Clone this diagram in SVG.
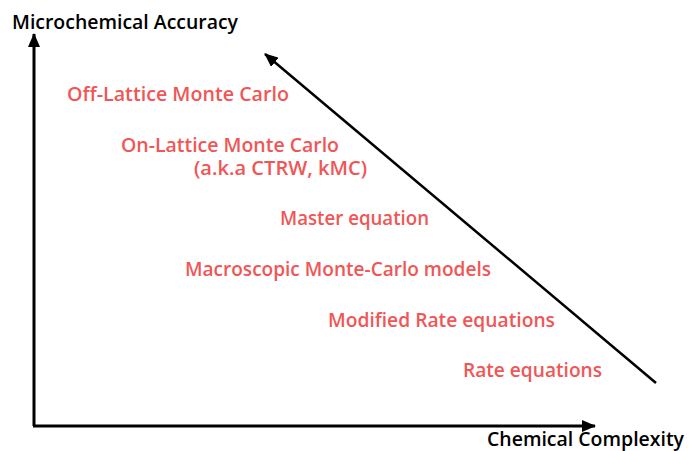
<svg xmlns="http://www.w3.org/2000/svg" width="689" height="451" viewBox="0 0 689 451">
<style>
text{font-family:"Open Sans","DejaVu Sans",sans-serif;font-weight:600;font-size:20px}
.ax{fill:#000}
.m{fill:#f05656}
.l{stroke:#000;fill:none}
</style>
<defs>
<marker id="ah" markerUnits="userSpaceOnUse" viewBox="0 0 14 12" refX="13" refY="6" markerWidth="14" markerHeight="12" orient="auto">
<path d="M0,0 L14,6 L0,12 z" fill="#000"/>
</marker>
</defs>
<rect width="689" height="451" fill="#fff"/>
<g id="connectors">
<path class="l" d="M34,426 L34,34" stroke-width="3" marker-end="url(#ah)"/>
<path class="l" d="M33,426 L595,426" stroke-width="3" marker-end="url(#ah)"/>
<path class="l" d="M656,383 L265,54" stroke-width="2.5" marker-end="url(#ah)"/>
</g>
<g id="y-axis-label"><text class="ax" x="12" y="29" textLength="226" lengthAdjust="spacingAndGlyphs">Microchemical Accuracy</text></g>
<g id="x-axis-label"><text class="ax" x="487" y="446" textLength="197" lengthAdjust="spacingAndGlyphs">Chemical Complexity</text></g>
<g id="off-lattice"><text class="m" x="67" y="101" textLength="222" lengthAdjust="spacingAndGlyphs">Off-Lattice Monte Carlo</text></g>
<g id="on-lattice">
<text class="m" x="121" y="152" textLength="218" lengthAdjust="spacingAndGlyphs">On-Lattice Monte Carlo</text>
<text class="m" x="194" y="175" textLength="173" lengthAdjust="spacingAndGlyphs">(a.k.a CTRW, kMC)</text>
</g>
<g id="master"><text class="m" x="280" y="225" textLength="149" lengthAdjust="spacingAndGlyphs">Master equation</text></g>
<g id="macroscopic"><text class="m" x="185" y="276" textLength="306" lengthAdjust="spacingAndGlyphs">Macroscopic Monte-Carlo models</text></g>
<g id="modified"><text class="m" x="328" y="327" textLength="227" lengthAdjust="spacingAndGlyphs">Modified Rate equations</text></g>
<g id="rate"><text class="m" x="463" y="377" textLength="139" lengthAdjust="spacingAndGlyphs">Rate equations</text></g>
</svg>
